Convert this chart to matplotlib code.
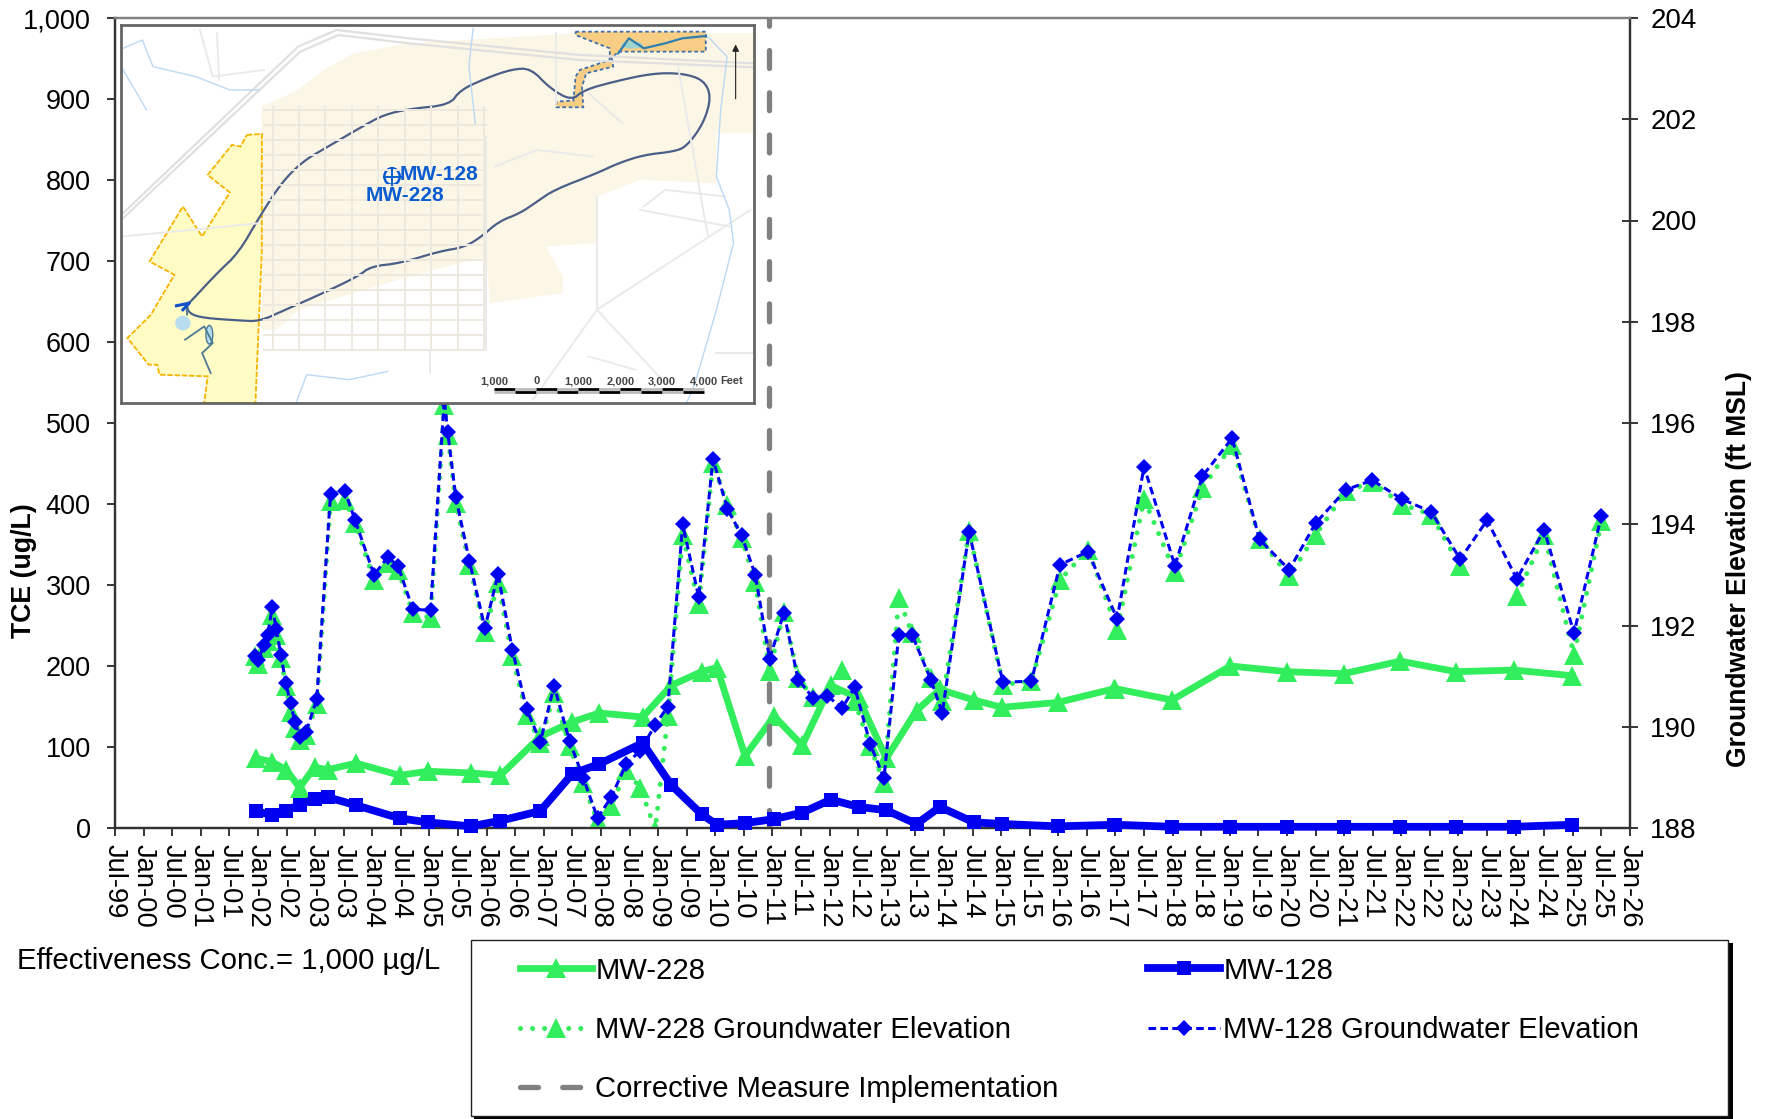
import numpy as np
import matplotlib
matplotlib.use('Agg')
import matplotlib.pyplot as plt
from matplotlib.patches import Polygon, Rectangle, Ellipse, Circle

plt.rcParams['font.family'] = ['Liberation Sans', 'DejaVu Sans']

W, H = 1767, 1119
nan = float('nan')

tick_labels = ['Jul-99','Jan-00','Jul-00','Jan-01','Jul-01','Jan-02','Jul-02','Jan-03','Jul-03','Jan-04',
               'Jul-04','Jan-05','Jul-05','Jan-06','Jul-06','Jan-07','Jul-07','Jan-08','Jul-08','Jan-09',
               'Jul-09','Jan-10','Jul-10','Jan-11','Jul-11','Jan-12','Jul-12','Jan-13','Jul-13','Jan-14',
               'Jul-14','Jan-15','Jul-15','Jan-16','Jul-16','Jan-17','Jul-17','Jan-18','Jul-18','Jan-19',
               'Jul-19','Jan-20','Jul-20','Jan-21','Jul-21','Jan-22','Jul-22','Jan-23','Jul-23','Jan-24',
               'Jul-24','Jan-25','Jul-25','Jan-26']

tce_dates = [2001.96,2002.24,2002.49,2002.73,2002.99,2003.22,2003.72,2004.48,2004.97,2005.72,2006.24,
             2006.94,2007.50,2007.97,2008.73,2009.23,2009.76,2010.03,2010.52,2011.03,2011.52,2012.02,
             2012.51,2012.99,2013.52,2013.93,2014.52,2015.01,2015.99,2016.98,2017.00,2017.99,2019.01,
             2020.00,2020.99,2021.98,2022.96,2023.97,2024.99]
mw228_tce = [86,82,72,50,75,72,80,65,70,68,65,113,131,142,137,176,193,198,89,138,102,176,160,86,145,171,
             158,149,155,172,172,158,200,193,190.5,206,193,195,188]
mw128_tce = [21,16,21,29,36,38,28,12,7,2,9,21,67,79,105,53,17,4,6,11,19,35,26,22,5,26,7,5,2,4,4,1.5,1.5,
             1.5,1.5,1.5,1.5,1.5,4]

gw_dates = [2001.95,2002.01,2002.10,2002.17,2002.25,2002.32,2002.40,2002.49,2002.57,2002.65,2002.73,2002.84,
            2003.03,2003.27,2003.52,2003.70,2004.03,2004.27,2004.45,2004.71,2005.02,2005.26,2005.32,2005.46,
            2005.70,2005.97,2006.20,2006.45,2006.70,2006.94,2007.18,2007.45,2007.69,2007.94,2008.18,2008.44,
            2008.69,2008.95,2009.17,2009.43,2009.71,2009.96,2010.21,2010.46,2010.70,2010.95,2011.20,2011.45,
            2011.71,2011.96,2012.22,2012.44,2012.71,2012.95,2013.21,2013.44,2013.77,2013.97,2014.44,2015.03,
            2015.53,2016.03,2016.52,2017.03,2017.50,2018.04,2018.52,2019.04,2019.52,2020.04,2020.50,2021.03,
            2021.49,2022.02,2022.52,2023.03,2023.50,2024.02,2024.50,2025.02,2025.50]
mw128_gw = [191.40,191.31,191.62,191.81,192.36,191.94,191.42,190.86,190.46,190.09,189.80,189.89,190.55,
            194.59,194.66,194.08,193.00,193.35,193.18,192.32,192.30,196.46,195.82,194.54,193.27,191.95,
            193.01,191.52,190.35,189.70,190.81,189.72,188.99,188.20,188.61,189.26,189.53,190.04,190.40,
            194.00,192.56,195.29,194.31,193.78,193.00,191.34,192.25,190.93,190.57,190.61,190.37,190.78,
            189.66,188.99,191.81,191.82,190.93,190.28,193.85,190.88,190.90,193.20,193.46,192.13,195.14,
            193.18,194.95,195.70,193.70,193.10,194.02,194.68,194.87,194.49,194.25,193.31,194.08,192.92,
            193.89,191.85,194.17]
mw228_gw = [191.40,191.23,191.55,191.69,192.21,191.82,191.36,190.80,190.30,189.97,189.74,189.84,190.44,
            194.45,194.48,194.02,192.90,193.23,193.10,192.25,192.15,196.36,195.77,194.42,193.20,191.88,
            192.84,191.39,190.24,189.68,190.67,189.61,188.89,188.13,188.43,189.14,188.79,187.97,190.21,
            193.79,192.43,195.21,194.39,193.73,192.85,191.11,192.27,190.96,190.58,nan,nan,190.50,
            189.61,188.89,192.54,191.85,190.96,190.50,193.86,190.83,190.90,192.90,193.50,191.92,194.50,
            193.05,194.71,195.57,193.71,192.97,193.79,194.65,194.83,194.39,194.19,193.17,nan,192.59,
            193.79,191.42,194.06]
mw228_gw_lone_dates = [2012.22]
mw228_gw_lone = [191.13]
cmi_date = 2010.94

GREEN, BLUE, GRAY = '#33EE5C', '#0000F0', '#808080'

fig = plt.figure(figsize=(W/100, H/100), dpi=100, facecolor='white')
L, R, T, B = 115, 1630, 18, 828
ax1 = fig.add_axes([L/W, 1-B/H, (R-L)/W, (B-T)/H], zorder=1)
ax2 = ax1.twinx(); ax2.set_zorder(2); ax2.patch.set_visible(False)
ax3 = ax1.twinx(); ax3.set_zorder(3); ax3.patch.set_visible(False)

ax1.set_xlim(1999.5, 2026.0)
ax1.set_ylim(0, 1000)
ax2.set_ylim(188, 204)
ax3.set_ylim(0, 1000)
ax3.axis('off')

l228, = ax1.plot(tce_dates, mw228_tce, color=GREEN, lw=4.9, marker='^', ms=15, mew=0, clip_on=False, label='MW-228')
lcmi = ax1.axvline(cmi_date, color=GRAY, lw=3.8, linestyle=(0, (3.4, 4.6)), dash_capstyle='round',
                   label='Corrective Measure Implementation')
g228, = ax2.plot(gw_dates, mw228_gw, color=GREEN, lw=3.6, linestyle=(0, (0.01, 2.4)), dash_capstyle='round',
                 marker='^', ms=15, mew=0, label='MW-228 Groundwater Elevation')
ax2.plot(mw228_gw_lone_dates, mw228_gw_lone, color=GREEN, linestyle='none', marker='^', ms=15, mew=0)
g128, = ax2.plot(gw_dates, mw128_gw, color=BLUE, lw=2.2, linestyle=(0, (2.5, 1.4)), marker='D', ms=8.3, mew=0,
                 label='MW-128 Groundwater Elevation')
l128, = ax3.plot(tce_dates, mw128_tce, color=BLUE, lw=5.6, marker='s', ms=10.6, mew=0, clip_on=False, label='MW-128')

ax1.set_xticks(1999.5 + 0.5*np.arange(len(tick_labels)))
ax1.set_xticklabels(tick_labels, rotation=270, fontsize=19.7, ha='center', va='top')
ax1.tick_params(axis='x', direction='out', length=5.5, width=1.1, pad=6)
ax1.set_yticks(np.arange(0, 1001, 100))
ax1.set_yticklabels([f'{v:,}' for v in range(0, 1001, 100)], fontsize=19.5)
ax1.tick_params(axis='y', direction='out', length=5.5, width=1.1, pad=12)
ax2.set_yticks(np.arange(188, 205, 2))
ax2.tick_params(axis='y', direction='inout', length=11, width=1.1, labelsize=20, pad=9)
for a in (ax1, ax2):
    for side in ('left', 'right', 'bottom'):
        a.spines[side].set_color('#333333'); a.spines[side].set_linewidth(1.6)
    a.spines['top'].set_color('#808080'); a.spines['top'].set_linewidth(1.6)

fig.text(24/W, 1-571/H, 'TCE (ug/L)', rotation=90, fontsize=19.2, fontweight='bold', ha='center', va='center')
fig.text(1739/W, 1-569/H, 'Groundwater Elevation (ft MSL)', rotation=90, fontsize=19.1, fontweight='bold', ha='center', va='center')
fig.text(17/W, 1-961/H, 'Effectiveness Conc.= 1,000 \u00b5g/L', fontsize=21.2, ha='left', va='center')

# legend box with shadow
def rect(x0, y0, x1, y1, **kw):
    fig.add_artist(Rectangle((x0/W, 1-y1/H), (x1-x0)/W, (y1-y0)/H, transform=fig.transFigure, **kw))
rect(474, 943, 1733, 1119, facecolor='black', edgecolor='none', zorder=4)
rect(471, 940, 1728, 1116, facecolor='white', edgecolor='#222222', lw=1, zorder=5)
leg = fig.legend(handles=[l228, g228, lcmi, l128, g128], ncol=2, frameon=False, fontsize=21.1,
                 loc='center left', bbox_to_anchor=(520/W, 1-1030/H), borderpad=0, borderaxespad=0,
                 handlelength=2.47, handletextpad=0.1, labelspacing=1.07, columnspacing=3.05)
leg.set_zorder(6)

# inset site map (schematic, coordinates in map pixels)
tan_area = [(570,130),(700,100),(1090,70),(1508,70),(1508,370),(1420,370),(1420,520),(1240,510),(1140,560),
            (1140,700),(1020,710),(1060,800),(1060,850),(890,880),(880,740),(700,800),(440,900),(390,960),
            (355,960),(355,290),(440,240),(500,180)]
yellow_area = [(320,375),(355,372),(355,720),(340,1180),(220,1180),(228,1100),(115,1095),(110,1065),(90,1065),
               (40,985),(95,915),(150,795),(92,755),(170,590),(215,680),(280,548),(228,495),(285,405),(305,410)]
orange_area = [(1090,65),(1395,65),(1395,125),(1190,125),(1175,145),(1178,170),(1115,190),(1105,230),(1108,292),
               (1045,292),(1045,275),(1085,272),(1090,200),(1100,180),(1170,150),(1170,115),(1090,75)]
plume = [(185,880),(250,790),(300,730),(350,620),(400,520),(450,455),(510,410),(590,350),(640,315),(700,297),
         (795,285),(820,240),(880,205),(940,178),(985,175),(1030,235),(1080,272),(1110,240),(1180,215),(1270,190),
         (1340,190),(1390,210),(1408,260),(1390,340),(1350,410),(1320,425),(1250,435),(1190,460),(1140,490),
         (1040,540),(1000,575),(960,610),(910,635),(870,680),(830,712),(770,725),(680,760),(610,770),(580,800),
         (490,855),(410,900),(350,935),(300,932),(220,925),(185,912),(178,885)]
rivers = [[(850,55),(840,170),(855,340)],
          [(1400,80),(1445,140),(1430,300),(1420,500),(1450,600),(1460,700),(1420,900),(1370,1120),(1350,1180)],
          [(30,115),(75,90),(100,170),(200,200),(280,240),(350,240)],
          [(30,180),(85,300)],
          [(435,1180),(460,1095),(560,1110),(650,1085)]]
highways = [[(30,610),(440,110),(530,60),(700,85),(1100,135),(1508,160)],
            [(30,625),(445,125),(535,75),(700,100),(1100,150),(1508,172)]]
roads = [[(1140,900),(1500,600)],[(990,1170),(1140,900),(1300,1120)],[(1140,560),(1140,900)],
         [(880,380),(880,1020)],[(30,680),(350,640)],[(1240,600),(1450,650)],[(1045,70),(1045,280)],
         [(1330,170),(1400,680)],[(210,60),(240,200),(360,180)],[(250,70),(255,210)],[(750,1020),(750,1090)],
         [(1250,590),(1300,540),(1440,560)],[(1120,1040),(1230,1080)],[(1420,1030),(1508,1030)],
         [(900,470),(1000,420),(1130,440)],[(1120,250),(1200,340)]]
channel = [[(175,990),(220,950),(240,1000),(215,1030),(235,1090)],
           [(185,880),(178,890),(180,915)]]

def smooth(pts, n=2):
    p = np.array(pts + [pts[0]], dtype=float)
    for _ in range(n):
        q = np.empty((2*(len(p)-1)+1, 2))
        q[:-1:2] = 0.75*p[:-1] + 0.25*p[1:]
        q[1:-1:2] = 0.25*p[:-1] + 0.75*p[1:]
        q[-1] = q[0]
        p = q
    return p

mp = fig.add_axes([121/W, 1-403/H, 633/W, 378/H], zorder=4)
mp.set_xlim(25, 1508); mp.set_ylim(1180, 45)
mp.set_xticks([]); mp.set_yticks([])
mp.add_patch(Polygon(tan_area, facecolor='#FCF6E6', edgecolor='none'))
for y in range(300, 1030, 45):
    mp.plot([360, 880], [y, y], color='#EDE9DF', lw=1.4)
for x in range(380, 880, 62):
    mp.plot([x, x], [290, 1020], color='#EDE9DF', lw=1.4)
for seg in roads:
    mp.plot(*zip(*seg), color='#EAEAEA', lw=1.4)
for seg in highways:
    mp.plot(*zip(*seg), color='#E0E0E0', lw=1.6)
for seg in rivers:
    mp.plot(*zip(*seg), color='#BBD9F4', lw=1.0)
mp.add_patch(Polygon(yellow_area, facecolor='#FFFBC4', edgecolor='#F5B400', lw=1.3, linestyle=(0, (3, 1))))
mp.add_patch(Polygon(orange_area, facecolor='#F8CE85', edgecolor='#3F6FA8', lw=1.3, linestyle=(0, (2, 1.5))))
mp.plot([1190,1215,1250,1300,1340,1395], [130,85,115,100,85,78], color='#2F7FB0', lw=1.6)
mp.add_patch(Ellipse((1222,105), 50, 22, facecolor='#9FD3D0', edgecolor='none'))
mp.add_patch(Polygon(smooth(plume), facecolor='none', edgecolor='#4A5F88', lw=1.6))
for seg in channel:
    mp.plot(*zip(*seg), color='#4C7A96', lw=1.3)
mp.add_patch(Ellipse((170,940), 36, 44, facecolor='#B8DDEE', edgecolor='none'))
mp.add_patch(Ellipse((232,975), 16, 56, facecolor='#B8DDEE', edgecolor='#4C7A96', lw=1))
mp.plot([155,185,170], [888,880,900], color='#1050C8', lw=2.2)
mp.add_patch(Ellipse((660,500), 36, 50, facecolor='none', edgecolor='#0A5CD0', lw=1.8))
mp.plot([640,680], [500,500], color='#0A5CD0', lw=1.4)
mp.plot([660,660], [475,525], color='#0A5CD0', lw=1.4)
mp.text(678, 495, 'MW-128', color='#0A5CD0', fontsize=15, fontweight='bold', va='center', ha='left')
mp.text(597, 558, 'MW-228', color='#0A5CD0', fontsize=15, fontweight='bold', va='center', ha='left')
scale_labels = ['1,000', '0', '1,000', '2,000', '3,000', '4,000']
for lab, x in zip(scale_labels, [900, 998, 1097, 1195, 1292, 1390]):
    mp.text(x, 1115, lab, fontsize=8, fontweight='bold', color='#444444', ha='center', va='center')
mp.text(1428, 1115, 'Feet', fontsize=8, fontweight='bold', color='#444444', ha='left', va='center')
for i, x in enumerate(range(900, 1390, 49)):
    top, bot = ('black', '#BBBBBB') if i % 2 == 0 else ('#BBBBBB', 'black')
    mp.plot([x, x+49], [1138, 1138], color=top, lw=2, solid_capstyle='butt')
    mp.plot([x, x+49], [1148, 1148], color=bot, lw=2, solid_capstyle='butt')
mp.annotate('', xy=(1465, 95), xytext=(1465, 275), arrowprops=dict(arrowstyle='-|>', color='#222222', lw=0.8))
for s in mp.spines.values():
    s.set_color('#666666'); s.set_linewidth(2)

fig.savefig('out.png', dpi=100)
